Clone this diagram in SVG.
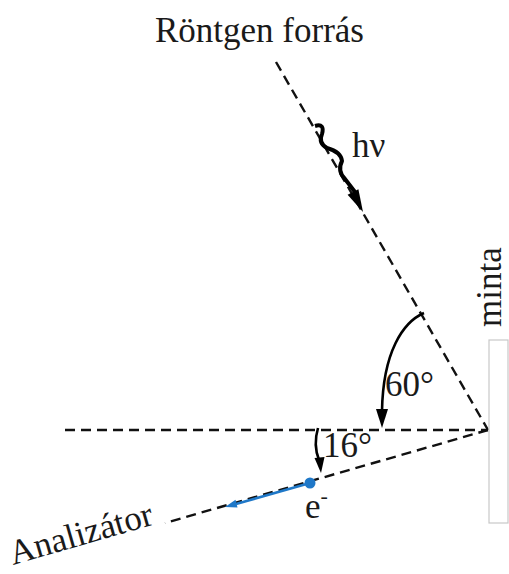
<svg xmlns="http://www.w3.org/2000/svg" width="509" height="574" viewBox="0 0 509 574">
<style>
.dash{stroke:#111;stroke-width:2.4;stroke-dasharray:10 6;fill:none}
.lbl{font-family:"Liberation Serif","Times New Roman",serif;font-size:35px;fill:#1a1a1a}
.arc{stroke:#000;stroke-width:2.6;fill:none}
.head{fill:#000}
.blue{stroke:#1f78c8;stroke-width:2.6;fill:none}
</style>
<rect width="509" height="574" fill="#fff"/>
<g id="connectors">
  <line class="dash" x1="276" y1="62" x2="488" y2="430"/>
  <line class="dash" x1="65" y1="430" x2="488" y2="430"/>
  <line class="dash" x1="488" y1="430" x2="165" y2="523"/>
  <path class="arc" d="M424,313 C403,322 383,352 382,411"/>
  <polygon class="head" points="382,428 376,409 388,409"/>
  <path class="arc" d="M318,428 Q313,445 319,460"/>
  <polygon class="head" points="321,473 314.5,458 324.5,457"/>
  <path d="M315,126 Q325,123 322,134 Q318,143 327,148 Q341,152 342,161 Q337,171 345,179 L355,192" stroke="#000" stroke-width="4" fill="none" stroke-linejoin="round"/>
  <polygon class="head" points="363,212 358.4,189.3 347.6,194.7"/>
  <line class="blue" x1="310" y1="483" x2="236" y2="504"/>
  <polygon fill="#1f78c8" points="225,507 237.5,507.6 235.5,499.8"/>
  <circle cx="310" cy="483" r="5.5" fill="#1f78c8"/>
</g>
<g id="source"><text class="lbl" x="155" y="42" font-size="37">Röntgen forrás</text></g>
<g id="photon"><text class="lbl" x="352" y="157">hν</text></g>
<g id="angle60"><text class="lbl" x="385" y="396">60°</text></g>
<g id="angle16"><text class="lbl" x="323" y="457">16°</text></g>
<g id="electron"><text class="lbl" x="305" y="518">e<tspan dy="-15" font-size="22">-</tspan></text></g>
<g id="sample">
  <rect x="489" y="340" width="19" height="183" fill="#fff" stroke="#c8c8c8" stroke-width="1.2"/>
  <text class="lbl" transform="translate(501,327) rotate(-90)">minta</text>
</g>
<g id="analyzer"><text class="lbl" font-size="36" transform="translate(13,565) rotate(-16)">Analizátor</text></g>
</svg>
